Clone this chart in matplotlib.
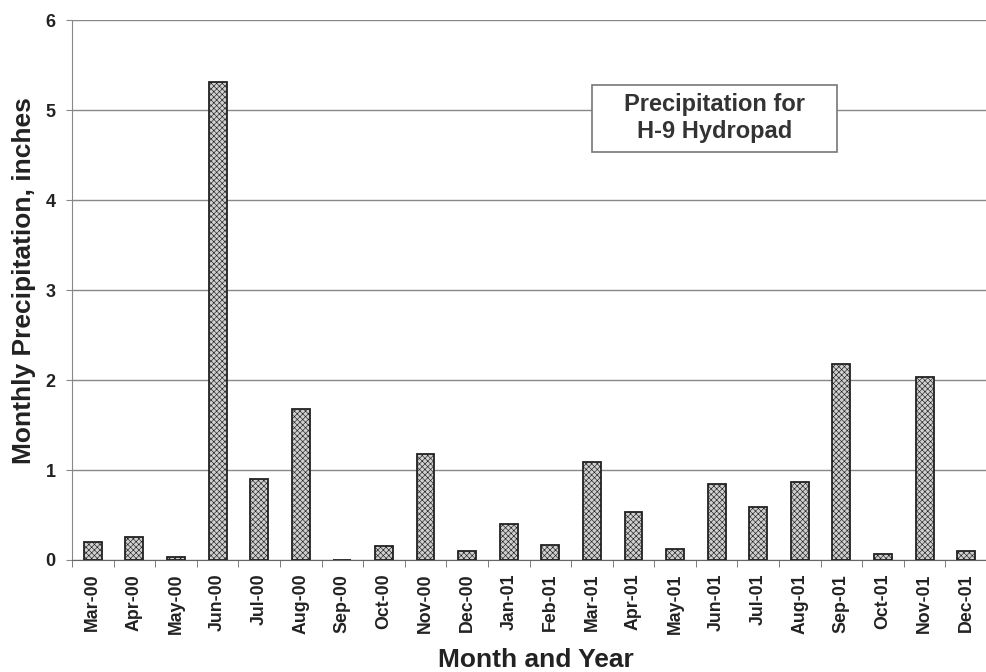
import numpy as np
import matplotlib.pyplot as plt
from matplotlib.patches import Rectangle

plt.rcParams['font.family'] = ['Liberation Sans', 'DejaVu Sans']
plt.rcParams['hatch.color'] = '#6a6a6a'
plt.rcParams['hatch.linewidth'] = 0.45

months = ['Mar-00', 'Apr-00', 'May-00', 'Jun-00', 'Jul-00', 'Aug-00', 'Sep-00',
          'Oct-00', 'Nov-00', 'Dec-00', 'Jan-01', 'Feb-01', 'Mar-01', 'Apr-01',
          'May-01', 'Jun-01', 'Jul-01', 'Aug-01', 'Sep-01', 'Oct-01', 'Nov-01',
          'Dec-01']
precip = [0.20, 0.25, 0.03, 5.31, 0.90, 1.68, 0.0, 0.16, 1.18, 0.10, 0.40,
          0.17, 1.09, 0.53, 0.12, 0.84, 0.59, 0.87, 2.18, 0.07, 2.03, 0.10]
yticks = [0, 1, 2, 3, 4, 5, 6]

fig = plt.figure(figsize=(9.87, 6.72), dpi=100)
ax = fig.add_axes([0.073, 0.1667, 0.927, 0.8033])

x = np.arange(len(months))
ax.bar(x, precip, width=0.43, color='#d0d0d0', edgecolor='#222222',
       linewidth=1.3, hatch='xxxxxx', zorder=3)

ax.set_ylim(0, 6)
ax.set_xlim(-0.5, 21.29)
ax.set_yticks(yticks)
ax.set_yticklabels([str(v) for v in yticks], fontsize=13, fontweight='bold',
                   color='#222222')
ax.yaxis.grid(True, color='#888888', linewidth=1.0, zorder=0)

ax.set_xticks(x)
ax.set_xticklabels(months, rotation=90, fontsize=12.8, fontweight='bold',
                   color='#222222')
ax.set_xticks(np.arange(-0.5, len(months), 1.0), minor=True)
ax.tick_params(axis='x', which='major', length=0, pad=10)
ax.tick_params(axis='x', which='minor', length=5, color='#666666', direction='out')
ax.tick_params(axis='y', length=4, color='#888888', pad=8)

for side in ['top', 'right']:
    ax.spines[side].set_visible(False)
ax.spines['left'].set_color('#888888')
ax.spines['bottom'].set_color('#666666')

# axis titles placed in figure pixels
fig.text(24 / 987, 0.582, 'Monthly Precipitation, inches', rotation=90,
         ha='center', va='center', fontsize=19, fontweight='bold', color='#222222')
fig.text(0.5426, 0.008, 'Month and Year', ha='center', va='baseline',
         fontsize=19, fontweight='bold', color='#222222')

# caption box
ax.add_patch(Rectangle((0.568, 0.7556), 0.268, 0.124, transform=ax.transAxes,
                       facecolor='white', edgecolor='#777777', linewidth=1.2,
                       zorder=5))
ax.text(0.702, 0.8185, 'Precipitation for\nH-9 Hydropad', transform=ax.transAxes,
        ha='center', va='center', fontsize=17, fontweight='bold',
        color='#333333', linespacing=1.25, zorder=6)

fig.savefig('out.png', dpi=100)
